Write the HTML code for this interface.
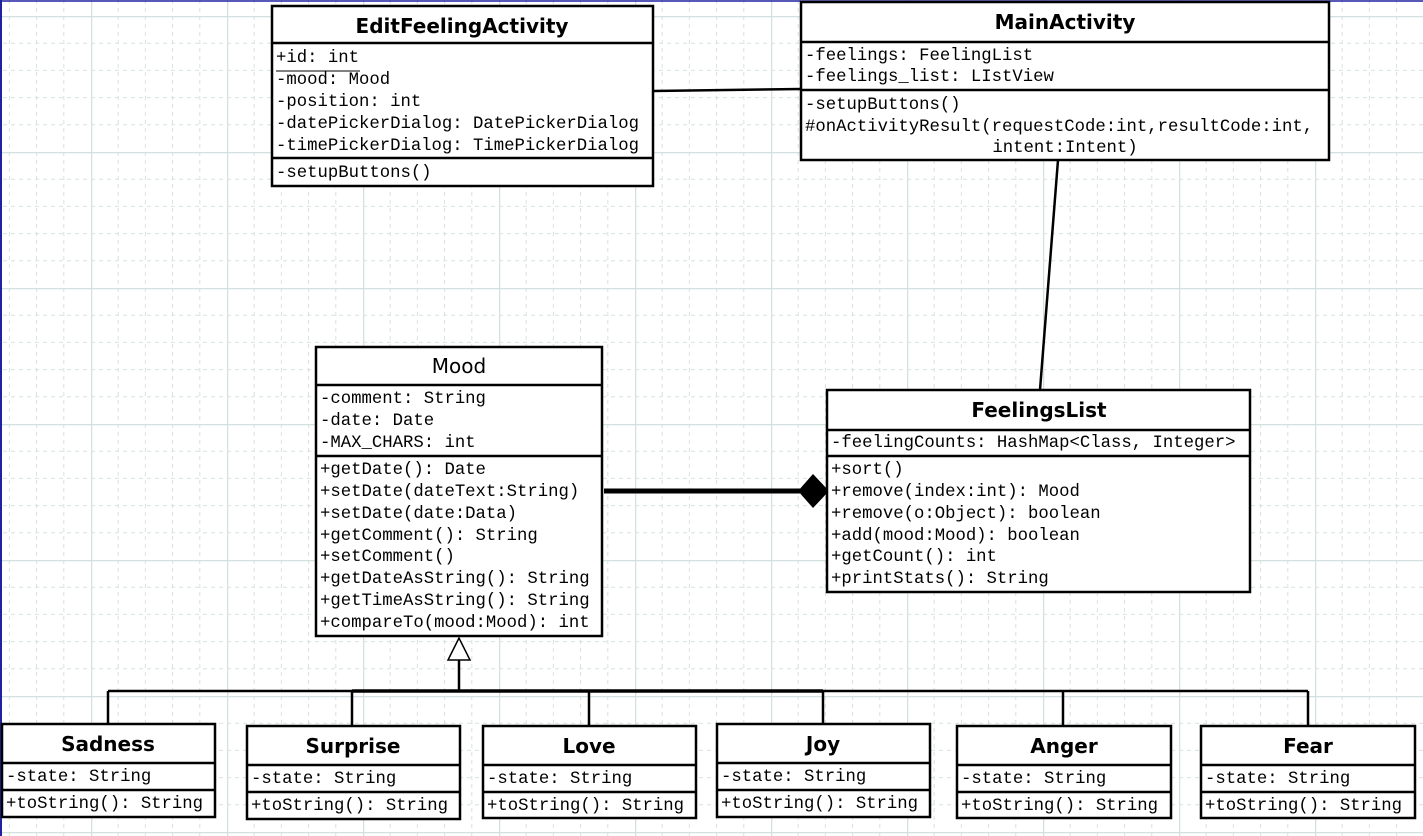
<!DOCTYPE html>
<html><head><meta charset="utf-8"><style>
html,body{margin:0;padding:0;background:#fff;}
svg{display:block;}
.m{font-family:"Liberation Mono",monospace;font-size:17.3px;fill:#000;}
.t{font-family:"DejaVu Sans","Liberation Sans",sans-serif;font-size:20px;font-weight:bold;fill:#000;}
.r{font-family:"DejaVu Sans","Liberation Sans",sans-serif;font-size:20px;fill:#000;}
.b{fill:#fff;stroke:#000;stroke-width:2.5;}
.l{stroke:#000;stroke-width:2.5;}
</style></head><body>
<svg width="1423" height="836" viewBox="0 0 1423 836" xmlns="http://www.w3.org/2000/svg">
<defs>
<pattern id="g" x="-45" y="16" width="136" height="136" patternUnits="userSpaceOnUse">
<g stroke="#d6e2e2" stroke-width="1" stroke-dasharray="4,4">
<line x1="27.2" y1="0" x2="27.2" y2="136"/><line x1="54.4" y1="0" x2="54.4" y2="136"/><line x1="81.6" y1="0" x2="81.6" y2="136"/><line x1="108.8" y1="0" x2="108.8" y2="136"/>
<line y1="27.2" x1="0" y2="27.2" x2="136"/><line y1="54.4" x1="0" y2="54.4" x2="136"/><line y1="81.6" x1="0" y2="81.6" x2="136"/><line y1="108.8" x1="0" y2="108.8" x2="136"/>
</g>
<line x1="0.5" y1="0" x2="0.5" y2="136" stroke="#d2e0e0" stroke-width="1.5"/>
<line y1="0.5" x1="0" y2="0.5" x2="136" stroke="#d2e0e0" stroke-width="1.5"/>
</pattern>
</defs>
<rect width="1423" height="836" fill="url(#g)"/>
<line x1="1" y1="0" x2="1" y2="836" stroke="#2020a0" stroke-width="2"/>
<line x1="0" y1="1" x2="1423" y2="1" stroke="#2020a0" stroke-width="1.5"/>

<!-- connectors -->
<line class="l" x1="653" y1="91" x2="801" y2="89"/>
<line class="l" x1="1058" y1="160" x2="1040" y2="390"/>
<line x1="604" y1="491" x2="800" y2="491" stroke="#000" stroke-width="5"/>
<polygon points="798,491 813,474 829,491 813,508" fill="#000"/>
<line class="l" x1="459" y1="660" x2="459" y2="691"/>
<polygon points="459,638 448,660 470,660" fill="#fff" stroke="#000" stroke-width="1.5"/>
<line class="l" x1="108" y1="691" x2="1308" y2="691"/>
<line x1="352" y1="691" x2="823" y2="691" stroke="#000" stroke-width="3.5"/>
<line class="l" x1="108" y1="691" x2="108" y2="724"/>
<line class="l" x1="352" y1="691" x2="352" y2="726"/>
<line class="l" x1="589" y1="691" x2="589" y2="726"/>
<line class="l" x1="823" y1="691" x2="823" y2="724"/>
<line class="l" x1="1063" y1="691" x2="1063" y2="726"/>
<line class="l" x1="1308" y1="691" x2="1308" y2="726"/>

<!-- EditFeelingActivity -->
<rect class="b" x="272" y="6" width="381" height="180"/>
<line class="l" x1="272" y1="43" x2="653" y2="43"/>
<line class="l" x1="272" y1="158" x2="653" y2="158"/>
<text class="t" x="462" y="33" text-anchor="middle">EditFeelingActivity</text>
<text class="m" x="276" y="62">+id: int</text>
<line x1="276" y1="71" x2="360" y2="71" stroke="#000" stroke-width="1"/>
<text class="m" x="276" y="84">-mood: Mood</text>
<text class="m" x="276" y="106">-position: int</text>
<text class="m" x="276" y="128">-datePickerDialog: DatePickerDialog</text>
<text class="m" x="276" y="150">-timePickerDialog: TimePickerDialog</text>
<text class="m" x="276" y="177">-setupButtons()</text>

<!-- MainActivity -->
<rect class="b" x="801" y="2" width="528" height="158"/>
<line class="l" x1="801" y1="42" x2="1329" y2="42"/>
<line class="l" x1="801" y1="90" x2="1329" y2="90"/>
<text class="t" x="1065" y="29" text-anchor="middle">MainActivity</text>
<text class="m" x="805" y="60">-feelings: FeelingList</text>
<text class="m" x="805" y="81">-feelings_list: LIstView</text>
<text class="m" x="805" y="109">-setupButtons()</text>
<text class="m" x="805" y="131">#onActivityResult(requestCode:int,resultCode:int,</text>
<text class="m" x="1065" y="152" text-anchor="middle">intent:Intent)</text>

<!-- Mood -->
<rect class="b" x="316" y="347" width="286" height="289"/>
<line class="l" x1="316" y1="385" x2="602" y2="385"/>
<line class="l" x1="316" y1="456" x2="602" y2="456"/>
<text class="r" x="459" y="373" text-anchor="middle">Mood</text>
<text class="m" x="320" y="403">-comment: String</text>
<text class="m" x="320" y="425">-date: Date</text>
<text class="m" x="320" y="447">-MAX_CHARS: int</text>
<text class="m" x="320" y="474">+getDate(): Date</text>
<text class="m" x="320" y="496">+setDate(dateText:String)</text>
<text class="m" x="320" y="518">+setDate(date:Data)</text>
<text class="m" x="320" y="540">+getComment(): String</text>
<text class="m" x="320" y="561">+setComment()</text>
<text class="m" x="320" y="583">+getDateAsString(): String</text>
<text class="m" x="320" y="605">+getTimeAsString(): String</text>
<text class="m" x="320" y="627">+compareTo(mood:Mood): int</text>

<!-- FeelingsList -->
<rect class="b" x="827" y="390" width="423" height="202"/>
<line class="l" x1="827" y1="430" x2="1250" y2="430"/>
<line class="l" x1="827" y1="456" x2="1250" y2="456"/>
<text class="t" x="1039" y="417" text-anchor="middle">FeelingsList</text>
<text class="m" x="831" y="447">-feelingCounts: HashMap&lt;Class, Integer&gt;</text>
<text class="m" x="831" y="474">+sort()</text>
<text class="m" x="831" y="496">+remove(index:int): Mood</text>
<text class="m" x="831" y="518">+remove(o:Object): boolean</text>
<text class="m" x="831" y="540">+add(mood:Mood): boolean</text>
<text class="m" x="831" y="561">+getCount(): int</text>
<text class="m" x="831" y="583">+printStats(): String</text>

<!-- subclasses -->
<g>
<rect class="b" x="2" y="724" width="213" height="93"/>
<line class="l" x1="2" y1="763" x2="215" y2="763"/><line class="l" x1="2" y1="790" x2="215" y2="790"/>
<text class="t" x="108" y="751" text-anchor="middle">Sadness</text>
<text class="m" x="6" y="781">-state: String</text>
<text class="m" x="6" y="808">+toString(): String</text>
</g>
<g>
<rect class="b" x="247" y="726" width="213" height="93"/>
<line class="l" x1="247" y1="765" x2="460" y2="765"/><line class="l" x1="247" y1="792" x2="460" y2="792"/>
<text class="t" x="353" y="753" text-anchor="middle">Surprise</text>
<text class="m" x="251" y="783">-state: String</text>
<text class="m" x="251" y="810">+toString(): String</text>
</g>
<g>
<rect class="b" x="483" y="726" width="213" height="92"/>
<line class="l" x1="483" y1="765" x2="696" y2="765"/><line class="l" x1="483" y1="792" x2="696" y2="792"/>
<text class="t" x="589" y="753" text-anchor="middle">Love</text>
<text class="m" x="487" y="783">-state: String</text>
<text class="m" x="487" y="810">+toString(): String</text>
</g>
<g>
<rect class="b" x="717" y="724" width="213" height="93"/>
<line class="l" x1="717" y1="763" x2="930" y2="763"/><line class="l" x1="717" y1="790" x2="930" y2="790"/>
<text class="t" x="823" y="751" text-anchor="middle">Joy</text>
<text class="m" x="721" y="781">-state: String</text>
<text class="m" x="721" y="808">+toString(): String</text>
</g>
<g>
<rect class="b" x="957" y="726" width="214" height="92"/>
<line class="l" x1="957" y1="765" x2="1171" y2="765"/><line class="l" x1="957" y1="792" x2="1171" y2="792"/>
<text class="t" x="1064" y="753" text-anchor="middle">Anger</text>
<text class="m" x="961" y="783">-state: String</text>
<text class="m" x="961" y="810">+toString(): String</text>
</g>
<g>
<rect class="b" x="1201" y="726" width="214" height="92"/>
<line class="l" x1="1201" y1="765" x2="1415" y2="765"/><line class="l" x1="1201" y1="792" x2="1415" y2="792"/>
<text class="t" x="1308" y="753" text-anchor="middle">Fear</text>
<text class="m" x="1205" y="783">-state: String</text>
<text class="m" x="1205" y="810">+toString(): String</text>
</g>
</svg>
</body></html>
